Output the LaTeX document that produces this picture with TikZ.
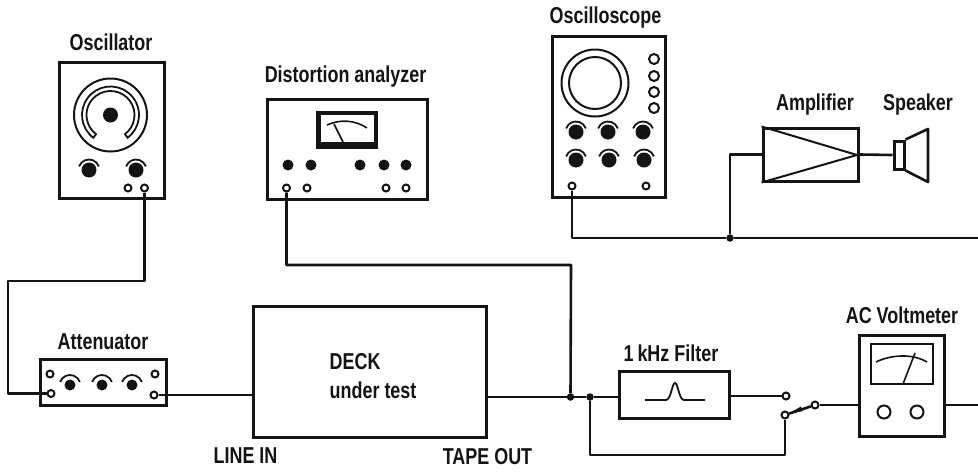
\documentclass[tikz,border=0pt]{standalone}
\usepackage{xcolor}
\usepackage{fontspec}
\setmainfont[FakeStretch=0.78]{Liberation Sans}
\usepackage{tikz}
\usetikzlibrary{arrows.meta, positioning}
\definecolor{inkblack}{RGB}{20,20,20}
\tikzset{
  panel/.style={draw=inkblack, line width=3pt, fill=white, inner sep=0pt, rectangle},
  lbl/.style={text=inkblack, font=\fontsize{23}{27}\selectfont\bfseries, inner sep=0pt},
  wire/.style={draw=inkblack, line width=2.6pt, line join=round},
  jack/.style={circle, draw=inkblack, fill=white, line width=2pt, inner sep=0pt, minimum size=7pt},
  junction/.style={circle, fill=inkblack, inner sep=0pt, minimum size=7.5pt},
  keydot/.style={circle, fill=inkblack, inner sep=0pt, minimum size=11pt},
}
\begin{document}
\begin{tikzpicture}[x=1pt, y=-1pt]
    \useasboundingbox (0,0) rectangle (978,472);
    % oscillator
    \node[panel, minimum width=105pt, minimum height=136pt] (oscillator) at (111.5,130) {};
    \node[lbl] (oscillatorlbl) at (111,42) {Oscillator};
    \draw[inkblack, line width=2pt] (110.5,115) circle (36.5pt);
    \draw[inkblack, line width=1.8pt] ([shift={(233:28.5pt)}]110.5,115) arc[start angle=233, end angle=-53, radius=28.5pt]
       -- ([shift={(-53:24pt)}]110.5,115) arc[start angle=-53, end angle=233, radius=24pt] -- cycle;
    \node[circle, fill=inkblack, inner sep=0pt, minimum size=15pt] (oscdial) at (110.5,115) {};
    \node[jack] (oscjacka) at (128,188) {};
    \node[jack] (oscout) at (144.5,188) {};
    % distortion analyzer
    \node[panel, minimum width=160pt, minimum height=100pt] (distortion) at (347,149) {};
    \node[lbl] (distortionlbl) at (345.5,77) {Distortion analyzer};
    \fill[inkblack] (316,111) rectangle (378,149);
    \fill[white] (321,115) rectangle (374,142);
    \draw[inkblack, line width=1.6pt] (327,125) .. controls (340,119) and (355,120) .. (367,128);
    \draw[inkblack, line width=1.6pt] (334,124) -- (343,142);
    \foreach \kx in {288,311,360,384,406}{
      \node[keydot] at (\kx,165) {};
    }
    \node[jack] (distin) at (286.5,188) {};
    \foreach \kx in {307,386,406}{
      \node[jack] at (\kx,188) {};
    }
    % oscilloscope
    \node[panel, minimum width=113pt, minimum height=161pt] (scope) at (608.5,116.5) {};
    \node[lbl] (scopelbl) at (605.5,18) {Oscilloscope};
    \draw[inkblack, line width=2pt] (595,83) circle (33.5pt);
    \draw[inkblack, line width=2pt] (595,83) circle (26pt);
    \foreach \ky in {59,76,92,108}{
      \node[jack, minimum size=10pt] at (654,\ky) {};
    }
    \node[jack] (scopein) at (572,186) {};
    \node[jack] (scopejack) at (646,186) {};
    % knobs of oscillator, oscilloscope
    \foreach \kx/\ky in {89/170,136/170,576/132,608/132,643/132,576/160,609/160,644/160}{
      \fill[inkblack] (\kx,\ky) circle (7.5pt);
      \draw[inkblack, line width=1.8pt] ([shift={(160:10.5pt)}]\kx,\ky) arc[start angle=160, end angle=20, radius=10.5pt];
    }
    % attenuator
    \node[panel, minimum width=126pt, minimum height=46pt] (attenuator) at (103,382.5) {};
    \node[lbl] (attenuatorlbl) at (103,342) {Attenuator};
    \foreach \kx in {70,102,132}{
      \fill[inkblack] (\kx,385) circle (5.5pt);
      \draw[inkblack, line width=1.8pt] ([shift={(160:10.5pt)}]\kx,385.5) arc[start angle=160, end angle=20, radius=10.5pt];
    }
    \node[jack] at (50,374) {};
    \node[jack] at (155,374) {};
    \node[jack] (attin) at (51,393.5) {};
    \node[jack] (attout) at (154,395) {};
    % deck
    \node[panel, minimum width=233pt, minimum height=131pt] (deck) at (369.5,371.5) {};
    \node[lbl, anchor=west, align=left, font=\fontsize{23}{29}\selectfont\bfseries] (decklbl) at (329.5,376) {DECK\\under test};
    \node[lbl] (linein) at (245.5,456) {LINE IN};
    \node[lbl] (tapeout) at (487.5,457) {TAPE OUT};
    % filter
    \node[panel, minimum width=110pt, minimum height=47pt] (filter) at (674,394.5) {};
    \node[lbl] (filterlbl) at (671,353) {1\,kHz Filter};
    \draw[inkblack, line width=1.8pt] (645,400) -- (666,400) .. controls (671,400) and (672,383) .. (675,383)
       .. controls (678,383) and (679,400) .. (684,400) -- (705,400);
    % voltmeter
    \node[panel, minimum width=85pt, minimum height=101pt] (voltmeter) at (901.5,385.5) {};
    \node[lbl] (voltmeterlbl) at (902,315) {AC Voltmeter};
    \draw[inkblack, line width=2pt] (871,344) rectangle (933,384);
    \draw[inkblack, line width=1.6pt] (876,362) .. controls (890,355) and (912,353) .. (927,362);
    \draw[inkblack, line width=1.6pt] (903,384) -- (915,353);
    \node[jack, minimum size=13pt] at (884,412) {};
    \node[jack, minimum size=13pt] at (917,412) {};
    % amplifier and speaker
    \node[panel, minimum width=95pt, minimum height=53pt] (amp) at (810.5,154.5) {};
    \node[lbl] (amplbl) at (815,105) {Amplifier};
    \coordinate (amptip) at (857,155);
    \draw[inkblack, line width=2pt] (amp.north west) -- (amptip) -- (amp.south west);
    \node[lbl] (speakerlbl) at (918,105) {Speaker};
    \node[panel, minimum width=10pt, minimum height=28pt] (speaker) at (899,155) {};
    \draw[inkblack, line width=2.6pt, line join=round] (speaker.north east) -- (928,129) -- (928,182) -- (speaker.south east);
    % switch
    \node[jack] (swa) at (786,396) {};
    \node[jack] (swb) at (785,415) {};
    \node[jack] (swc) at (815,405) {};
    \draw[wire] (swb) -- (swc);
    \fill[inkblack] (788,414) -- (801,406.5) -- (803,411) -- cycle;
    % junctions and free ends
    \coordinate (rightscope) at (978,238);
    \coordinate (rightvolt) at (978,405);
    \coordinate (bendw) at (8,281);
    \coordinate (bendd) at (571,265);
    \coordinate (bendf) at (590,455);
    \node[junction] (tapej) at (570.5,397) {};
    \node[junction] (filtj) at (590,397) {};
    \node[junction] (ampj) at (730,238) {};
    % connectors
    \draw[wire] (oscout.south) |- (bendw) |- (attin.west);
    \draw[wire] (attout.east) -- (deck.west |- attout);
    \draw[wire] (deck.east |- tapej) -- (tapej) -- (filtj) -- (filter.west |- filtj);
    \draw[wire] (distin.south) |- (bendd) -- (tapej);
    \draw[wire] (scopein.south) |- (ampj) -- (rightscope);
    \draw[wire] (ampj) |- (amp.west);
    \draw[wire] (amp.east) -- (speaker.west);
    \draw[wire] (filter.east |- swa) -- (swa);
    \draw[wire] (filtj) |- (bendf) -| (swb.south);
    \draw[wire] (swc) -- (voltmeter.west |- swc);
    \draw[wire] (voltmeter.east |- rightvolt) -- (rightvolt);
  \end{tikzpicture}
\end{document}
